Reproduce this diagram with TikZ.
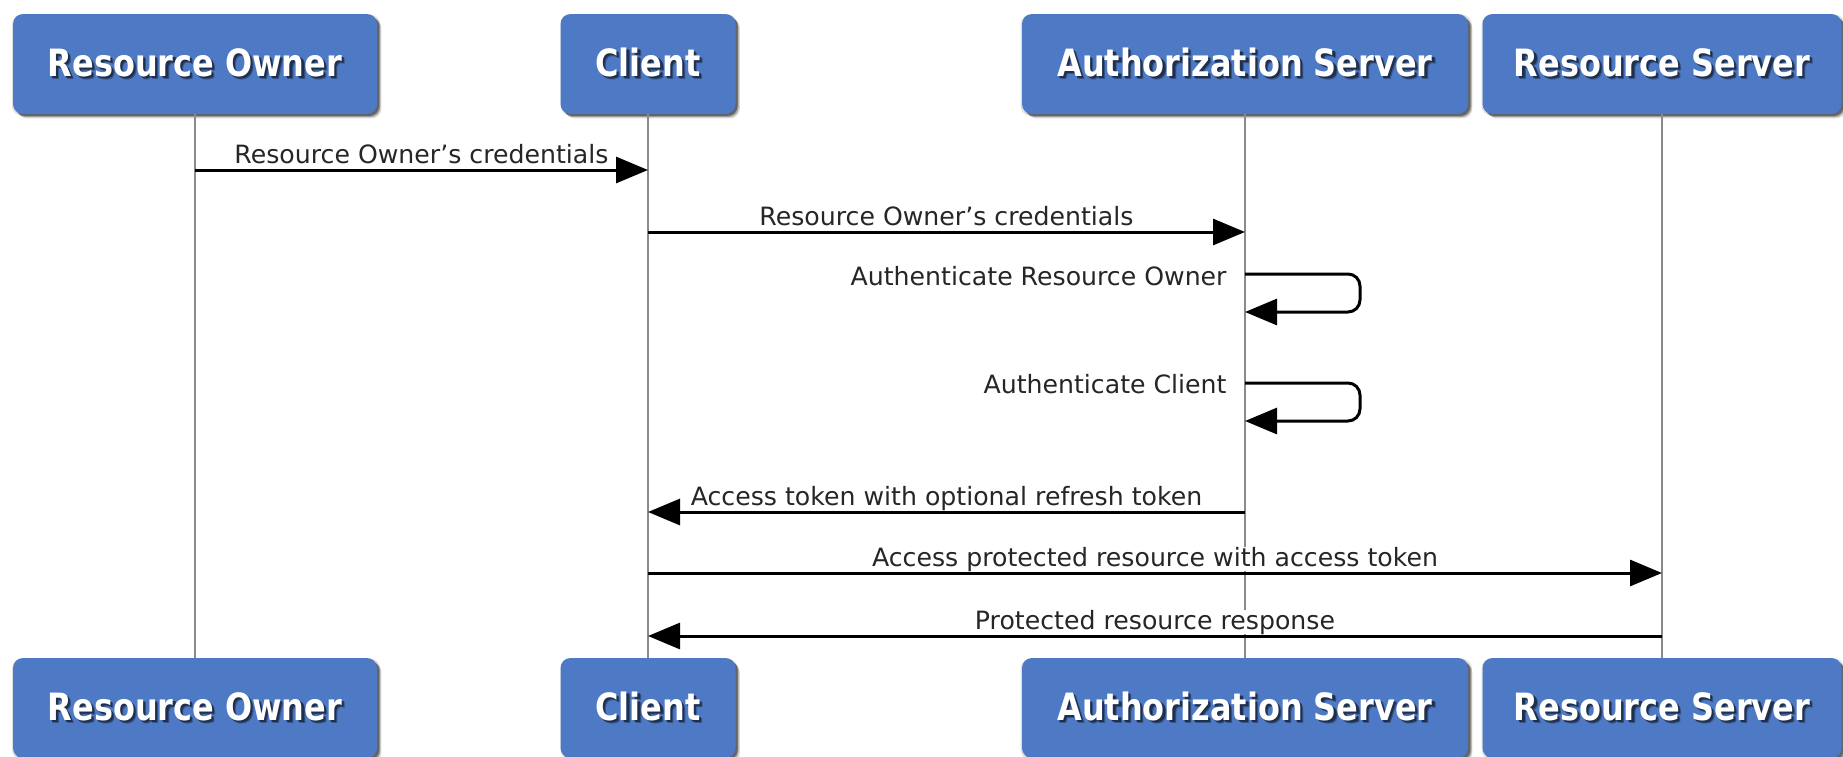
\documentclass[tikz,border=0pt]{standalone}
\usepackage{fontspec}
\setmainfont{DejaVu Sans}
\newfontfamily\headfont[FakeStretch=0.85]{DejaVu Sans}
\usetikzlibrary{arrows.meta,shadows}

\definecolor{boxblue}{HTML}{4E79C4}
\definecolor{lifegray}{HTML}{8A8A8A}
\colorlet{tshadow}{boxblue!40!black}

% white caption with a soft dark offset copy underneath
\newcommand\embossed[1]{\leavevmode
  \rlap{\hspace{1.6pt}\raisebox{-1.6pt}{\textcolor{boxblue!70!black}{#1}}}%
  \rlap{\hspace{1.1pt}\raisebox{-1.1pt}{\textcolor{tshadow}{#1}}}%
  \textcolor{white}{#1}}

\begin{document}
\begin{tikzpicture}[
  x=0.5pt, y=-0.5pt,
  actor/.style={fill=boxblue, rounded corners=5pt, minimum height=50pt,
    inner sep=0pt, font=\headfont\bfseries\fontsize{18.8}{22}\selectfont,
    drop shadow={shadow xshift=0.6pt, shadow yshift=-0.6pt, shadow scale=1.012, opacity=0.12, fill=black},
    drop shadow={shadow xshift=2.2pt, shadow yshift=-2.2pt, opacity=0.15, fill=black},
    drop shadow={shadow xshift=1.6pt, shadow yshift=-1.6pt, opacity=0.25, fill=black},
    drop shadow={shadow xshift=1pt, shadow yshift=-1pt, opacity=0.3, fill=black}},
  life/.style={draw=lifegray, line width=1pt},
  msg/.style={draw=black, line width=1.5pt, -{Triangle[length=16pt,width=13pt]}},
  loopmsg/.style={msg, rounded corners=6pt},
  msglbl/.style={font=\fontsize{12.6}{15}\selectfont, text=black!85, fill=white,
    inner xsep=1pt, inner ysep=0pt, anchor=base},
]
\useasboundingbox (0,0) rectangle (1843,756);

% participants, top row
\node[actor, minimum width=182pt]   (ro) at (195,64)  {\embossed{Resource Owner}};
\node[actor, minimum width=87.5pt]  (cl) at (648,64)  {\embossed{Client}};
\node[actor, minimum width=223pt]   (as) at (1245,64) {\embossed{Authorization Server}};
\node[actor, minimum width=179.5pt] (rs) at (1662,64) {\embossed{Resource Server}};

% participants, bottom row
\node[actor, minimum width=182pt]   (rob) at (195,708)  {\embossed{Resource Owner}};
\node[actor, minimum width=87.5pt]  (clb) at (648,708)  {\embossed{Client}};
\node[actor, minimum width=223pt]   (asb) at (1245,708) {\embossed{Authorization Server}};
\node[actor, minimum width=179.5pt] (rsb) at (1662,708) {\embossed{Resource Server}};

% lifelines
\draw[life] (ro.south) -- (rob.north);
\draw[life] (cl.south) -- (clb.north);
\draw[life] (as.south) -- (asb.north);
\draw[life] (rs.south) -- (rsb.north);

% message levels
\coordinate (y1) at (0,170);
\coordinate (y2) at (0,232);
\coordinate (y3a) at (0,274);
\coordinate (y3b) at (0,312);
\coordinate (y4a) at (0,383);
\coordinate (y4b) at (0,421);
\coordinate (y5) at (0,512);
\coordinate (y6) at (0,573);
\coordinate (y7) at (0,636);
\coordinate (loopx) at (1360,0);

% end points on the lifelines
\coordinate (m1a) at (ro.south |- y1);
\coordinate (m1b) at (cl.south |- y1);
\coordinate (m2a) at (cl.south |- y2);
\coordinate (m2b) at (as.south |- y2);
\coordinate (m3a) at (as.south |- y3a);
\coordinate (m3b) at (as.south |- y3b);
\coordinate (m4a) at (as.south |- y4a);
\coordinate (m4b) at (as.south |- y4b);
\coordinate (m5a) at (as.south |- y5);
\coordinate (m5b) at (cl.south |- y5);
\coordinate (m6a) at (cl.south |- y6);
\coordinate (m6b) at (rs.south |- y6);
\coordinate (m7a) at (rs.south |- y7);
\coordinate (m7b) at (cl.south |- y7);

% message captions
\path (m1a) -- (m1b) node[msglbl, midway, yshift=3.5pt] (t1) {Resource Owner's credentials};
\path (m2a) -- (m2b) node[msglbl, midway, yshift=3.5pt] (t2) {Resource Owner's credentials};
\node[msglbl, anchor=base east] (t3) at ([xshift=-8pt, yshift=-5.5pt]m3a) {Authenticate Resource Owner};
\node[msglbl, anchor=base east] (t4) at ([xshift=-8pt, yshift=-5pt]m4a) {Authenticate Client};
\path (m5a) -- (m5b) node[msglbl, midway, yshift=3.5pt] (t5) {Access token with optional refresh token};
\path (m6a) -- (m6b) node[msglbl, midway, yshift=3.5pt] (t6) {Access protected resource with access token};
\path (m7a) -- (m7b) node[msglbl, midway, yshift=3.5pt] (t7) {Protected resource response};

% messages
\draw[msg] (m1a) -- (m1b);
\draw[msg] (m2a) -- (m2b);
\draw[loopmsg] (m3a) -- (loopx |- y3a) -- (loopx |- y3b) -- (m3b);
\draw[loopmsg] (m4a) -- (loopx |- y4a) -- (loopx |- y4b) -- (m4b);
\draw[msg] (m5a) -- (m5b);
\draw[msg] (m6a) -- (m6b);
\draw[msg] (m7a) -- (m7b);
\end{tikzpicture}
\end{document}
